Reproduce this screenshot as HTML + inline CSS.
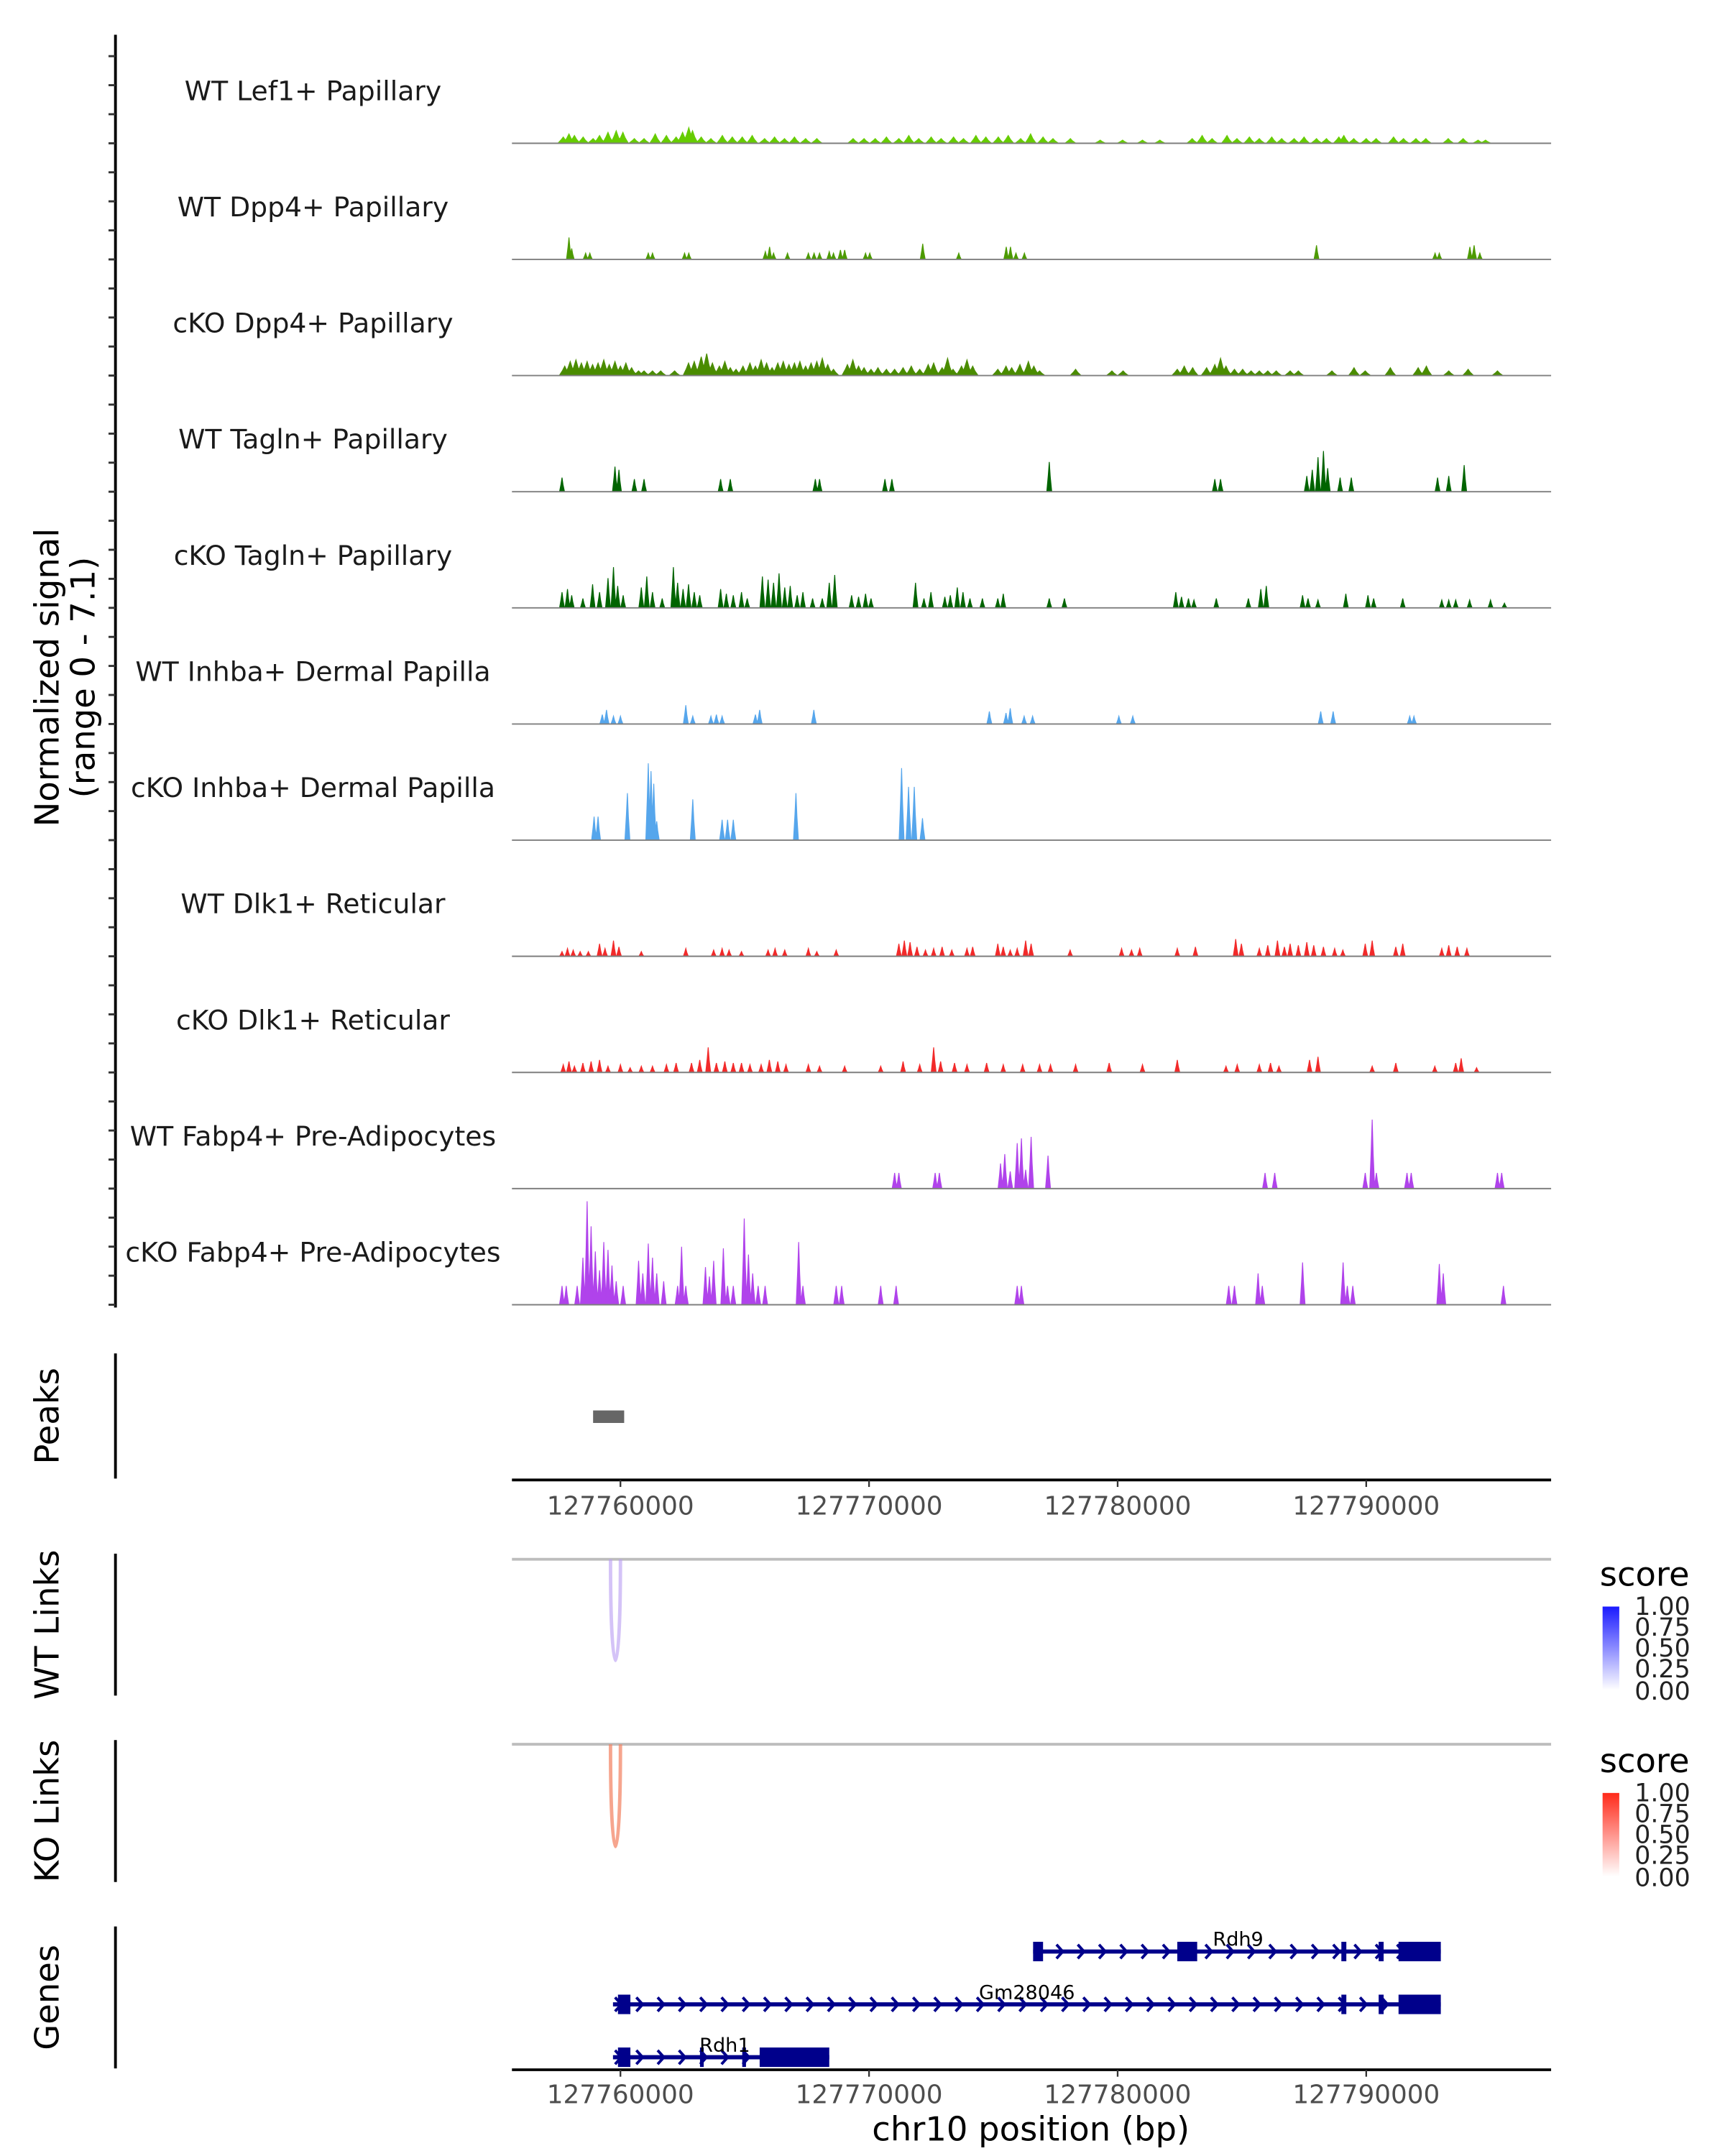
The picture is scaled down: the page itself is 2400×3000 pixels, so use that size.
<!DOCTYPE html>
<html><head><meta charset="utf-8"><style>
html,body{margin:0;padding:0;background:#fff}
svg{display:block;font-family:"DejaVu Sans","Liberation Sans",sans-serif}
</style></head><body>
<svg id="chart" xmlns="http://www.w3.org/2000/svg" width="2400" height="3000" viewBox="0 0 1240 1550">
<rect x="0" y="0" width="1240" height="1550" fill="#fff"/>
<g id="tracks"></g>
<g>
<text transform="translate(42,487) rotate(-90)" text-anchor="middle" font-size="24" fill="#000">Normalized signal</text>
<text transform="translate(68,487) rotate(-90)" text-anchor="middle" font-size="24" fill="#000">(range 0 - 7.1)</text>
</g>
<line x1="83" y1="25" x2="83" y2="940" stroke="#000" stroke-width="2"/>
<g id="yticks"></g>
<line x1="83" y1="973" x2="83" y2="1063" stroke="#000" stroke-width="2"/>
<text transform="translate(42,1018) rotate(-90)" text-anchor="middle" font-size="24">Peaks</text>
<g id="peaks"></g>
<line x1="368" y1="1064" x2="1115" y2="1064" stroke="#000" stroke-width="2"/>
<g id="xticks1"></g>
<line x1="83" y1="1117" x2="83" y2="1219" stroke="#000" stroke-width="2"/>
<text transform="translate(42,1168) rotate(-90)" text-anchor="middle" font-size="24">WT Links</text>
<line x1="368" y1="1121" x2="1115" y2="1121" stroke="#bdbdbd" stroke-width="2"/>
<g id="wtlinks"></g>
<line x1="83" y1="1251" x2="83" y2="1353" stroke="#000" stroke-width="2"/>
<text transform="translate(42,1302) rotate(-90)" text-anchor="middle" font-size="24">KO Links</text>
<line x1="368" y1="1254" x2="1115" y2="1254" stroke="#bdbdbd" stroke-width="2"/>
<g id="kolinks"></g>
<defs>
<linearGradient id="gb" x1="0" y1="1" x2="0" y2="0"><stop offset="0" stop-color="#ffffff"/><stop offset="1" stop-color="#1a1aff"/></linearGradient>
<linearGradient id="gr" x1="0" y1="1" x2="0" y2="0"><stop offset="0" stop-color="#ffffff"/><stop offset="1" stop-color="#ff2a1a"/></linearGradient>
</defs>
<g>
<text x="1150" y="1140" font-size="24">score</text>
<rect x="1152" y="1155" width="12" height="60" fill="url(#gb)"/>
<g font-size="18" fill="#222"><text x="1175" y="1161">1.00</text><text x="1175" y="1176">0.75</text><text x="1175" y="1191">0.50</text><text x="1175" y="1206">0.25</text><text x="1175" y="1222">0.00</text></g>
</g>
<g>
<text x="1150" y="1274" font-size="24">score</text>
<rect x="1152" y="1289" width="12" height="60" fill="url(#gr)"/>
<g font-size="18" fill="#222"><text x="1175" y="1295">1.00</text><text x="1175" y="1310">0.75</text><text x="1175" y="1325">0.50</text><text x="1175" y="1340">0.25</text><text x="1175" y="1356">0.00</text></g>
</g>
<line x1="83" y1="1385" x2="83" y2="1487" stroke="#000" stroke-width="2"/>
<text transform="translate(42,1436) rotate(-90)" text-anchor="middle" font-size="24">Genes</text>
<g id="genes"></g>
<line x1="368" y1="1488" x2="1115" y2="1488" stroke="#000" stroke-width="2"/>
<g id="xticks2"></g>
<text x="741" y="1539" text-anchor="middle" font-size="24">chr10 position (bp)</text>
</svg>
<script>
// positions in kb relative to 127760000; heights in normalized signal units
const trackNames = ["WT Lef1+ Papillary","WT Dpp4+ Papillary","cKO Dpp4+ Papillary","WT Tagln+ Papillary","cKO Tagln+ Papillary","WT Inhba+ Dermal Papilla","cKO Inhba+ Dermal Papilla","WT Dlk1+ Reticular","cKO Dlk1+ Reticular","WT Fabp4+ Pre-Adipocytes","cKO Fabp4+ Pre-Adipocytes"];
const trackColors = ["#66CC00","#4C9A00","#4A8C00","#006400","#006400","#56A6EC","#56A6EC","#F22A2A","#F22A2A","#B043EB","#B043EB"];
const lef1Pos = [-2.3,-2.07,-1.85,-1.5,-1.1,-0.84,-0.5,-0.17,0.1,0.56,0.95,1.4,1.85,2.24,2.5,2.75,2.9,3.25,3.64,4.1,4.5,4.9,5.3,5.8,6.2,6.6,7.0,7.45,7.9,9.36,9.8,10.25,10.7,11.2,11.6,12.0,12.5,12.9,13.4,13.8,14.3,14.7,15.2,15.6,16.1,16.5,17.0,17.4,18.1,19.3,20.2,21.0,21.7,23.0,23.4,23.8,24.4,24.8,25.3,25.7,26.2,26.6,27.1,27.5,28.0,28.4,28.9,29.1,29.5,30.0,30.4,31.1,31.5,32.0,32.4,33.3,33.9,34.5,34.8];
const lef1Val = [0.4,0.6,0.5,0.4,0.3,0.5,0.7,0.8,0.7,0.3,0.3,0.6,0.5,0.4,0.7,1.0,0.8,0.4,0.3,0.5,0.4,0.4,0.5,0.3,0.4,0.3,0.4,0.3,0.3,0.3,0.3,0.3,0.4,0.3,0.5,0.3,0.4,0.3,0.4,0.3,0.5,0.4,0.4,0.5,0.3,0.6,0.4,0.3,0.3,0.2,0.2,0.2,0.2,0.3,0.5,0.3,0.5,0.3,0.4,0.3,0.4,0.3,0.3,0.4,0.3,0.3,0.4,0.5,0.3,0.3,0.3,0.4,0.3,0.3,0.3,0.3,0.3,0.2,0.2];
const wtDppPos = [-2.07,-1.96,-1.4,-1.23,1.12,1.29,2.58,2.75,5.83,6.0,6.16,6.72,7.56,7.79,8.01,8.4,8.57,8.85,9.02,9.86,10.03,12.16,13.61,15.52,15.69,15.91,16.25,28.0,32.77,32.94,34.17,34.34,34.57];
const wtDppVal = [1.4,0.7,0.4,0.4,0.4,0.4,0.4,0.4,0.5,0.8,0.4,0.4,0.4,0.4,0.4,0.5,0.4,0.6,0.6,0.4,0.4,1.0,0.4,0.8,0.8,0.4,0.4,0.9,0.4,0.4,0.8,0.9,0.4];
const koDppPos = [-2.24,-2.02,-1.79,-1.57,-1.34,-1.12,-0.9,-0.67,-0.45,-0.22,0,0.22,0.45,0.73,0.95,1.29,1.62,2.18,2.74,2.97,3.25,3.47,3.7,3.98,4.2,4.42,4.65,4.93,5.21,5.43,5.66,5.88,6.1,6.33,6.55,6.78,7.0,7.22,7.45,7.67,7.9,8.12,8.34,8.57,9.13,9.35,9.58,9.8,10.08,10.36,10.7,11.03,11.37,11.7,12.04,12.38,12.6,12.94,13.16,13.38,13.72,13.94,14.17,15.18,15.51,15.74,16.07,16.41,16.63,16.86,18.31,19.77,20.22,22.4,22.68,23.02,23.58,23.91,24.14,24.36,24.7,25.03,25.37,25.7,26.04,26.38,26.94,27.27,28.62,29.51,29.96,30.97,32.09,32.42,33.32,34.1,35.28];
const koDppVal = [0.6,0.9,1.0,0.8,0.9,0.7,0.8,1.0,0.7,0.9,0.6,0.8,0.5,0.3,0.3,0.3,0.3,0.3,0.8,0.9,1.2,1.4,0.8,0.6,0.9,0.5,0.4,0.6,0.8,0.6,1.0,0.8,0.5,0.8,0.9,0.7,0.8,0.9,0.6,0.8,0.9,1.1,0.7,0.4,0.7,1.0,0.6,0.5,0.4,0.5,0.4,0.4,0.5,0.6,0.4,0.7,0.8,0.5,1.1,0.4,0.6,1.0,0.6,0.4,0.6,0.5,0.7,0.9,0.6,0.3,0.4,0.3,0.3,0.4,0.6,0.5,0.5,0.7,1.1,0.6,0.4,0.4,0.3,0.3,0.3,0.3,0.3,0.3,0.3,0.5,0.3,0.5,0.5,0.6,0.3,0.4,0.3];
const wtTagPos = [-2.35,-0.22,-0.06,0.56,0.95,4.03,4.42,7.84,8.01,10.64,10.92,17.25,23.91,24.14,27.61,27.83,28.06,28.28,28.45,28.95,29.4,32.87,33.32,33.94];
const wtTagVal = [0.9,1.6,1.4,0.8,0.8,0.8,0.8,0.8,0.8,0.8,0.8,1.9,0.8,0.8,1.0,1.4,2.2,2.6,1.5,0.9,0.9,0.9,1.0,1.7];
const koTagPos = [-2.35,-2.13,-1.96,-1.51,-1.12,-0.84,-0.5,-0.28,-0.11,0.11,0.84,1.06,1.29,1.68,2.13,2.3,2.52,2.74,2.97,3.19,4.03,4.26,4.54,4.87,5.1,5.71,5.94,6.16,6.38,6.61,6.83,7.11,7.34,7.73,8.12,8.4,8.62,9.3,9.58,9.86,10.08,11.87,12.21,12.49,13.05,13.27,13.55,13.78,14.06,14.56,15.18,15.4,17.25,17.86,22.34,22.57,22.85,23.07,23.97,25.26,25.76,25.98,27.44,27.66,28.06,29.18,30.07,30.3,31.47,33.04,33.32,33.6,34.16,35.0,35.56];
const koTagVal = [1.0,1.2,0.8,0.6,1.5,1.0,1.9,2.6,1.4,0.8,1.3,2.0,1.0,0.6,2.6,1.6,1.2,1.5,1.0,0.8,1.2,0.9,0.8,1.0,0.6,2.0,1.8,1.6,2.2,1.3,1.4,0.8,1.0,0.6,0.6,1.6,2.1,0.8,0.7,0.9,0.6,1.6,0.6,1.0,0.7,0.8,1.3,1.0,0.6,0.6,0.6,0.9,0.6,0.6,1.0,0.7,0.6,0.5,0.6,0.6,1.2,1.4,0.8,0.6,0.5,0.9,0.8,0.6,0.6,0.5,0.5,0.5,0.5,0.5,0.3];
const wtInhPos = [-0.73,-0.56,-0.28,0,2.63,2.91,3.64,3.86,4.09,5.43,5.6,7.78,14.84,15.51,15.68,16.24,16.58,20.05,20.61,28.17,28.67,31.75,31.92];
const wtInhVal = [0.6,0.9,0.5,0.5,1.2,0.5,0.5,0.6,0.5,0.6,0.9,0.9,0.8,0.7,1.0,0.5,0.5,0.5,0.5,0.8,0.8,0.5,0.5];
const koInhPos = [-1.06,-0.9,0.28,1.12,1.23,1.34,1.46,2.91,4.09,4.31,4.54,7.06,11.31,11.59,11.82,12.15];
const koInhVal = [1.5,1.5,3.0,4.9,4.4,3.6,1.2,2.6,1.3,1.3,1.3,3.0,4.6,3.4,3.4,1.4];
const wtDlkPos = [-2.35,-2.13,-1.9,-1.62,-1.29,-0.84,-0.62,-0.28,-0.06,0.84,2.63,3.75,4.09,4.37,4.87,5.94,6.22,6.61,7.56,7.9,8.68,11.2,11.42,11.65,11.93,12.27,12.6,12.94,13.33,13.94,14.17,15.18,15.4,15.68,15.96,16.3,16.52,18.09,20.16,20.56,20.89,22.4,23.13,24.75,24.98,25.7,26.04,26.43,26.71,26.94,27.27,27.61,27.89,28.28,28.73,29.06,29.96,30.24,31.19,31.47,33.04,33.32,33.66,34.05];
const wtDlkVal = [0.3,0.5,0.4,0.3,0.3,0.8,0.5,1.0,0.6,0.3,0.5,0.4,0.5,0.4,0.3,0.4,0.5,0.4,0.5,0.3,0.4,0.8,1.0,0.9,0.6,0.4,0.5,0.6,0.4,0.5,0.6,0.8,0.6,0.4,0.5,1.0,0.8,0.4,0.5,0.4,0.5,0.5,0.6,1.1,0.8,0.5,0.7,1.0,0.6,0.8,0.7,0.9,0.7,0.6,0.5,0.4,0.8,1.0,0.6,0.8,0.5,0.7,0.6,0.5];
const koDlkPos = [-2.3,-2.07,-1.85,-1.51,-1.18,-0.84,-0.5,0,0.39,0.84,1.29,1.85,2.24,2.86,3.19,3.53,3.86,4.2,4.54,4.87,5.21,5.66,5.99,6.33,6.66,7.56,8.01,9.02,10.47,11.37,12.04,12.6,12.88,13.44,13.94,14.73,15.4,16.18,16.86,17.3,18.31,19.66,21.0,22.4,24.36,24.81,25.7,26.15,26.49,27.72,28.06,30.24,31.19,32.76,33.6,33.82,34.44];
const koDlkVal = [0.5,0.7,0.4,0.6,0.7,0.8,0.4,0.5,0.3,0.4,0.4,0.5,0.6,0.6,0.8,1.6,0.6,0.7,0.6,0.6,0.5,0.5,0.8,0.7,0.5,0.5,0.4,0.4,0.4,0.7,0.5,1.6,0.7,0.6,0.5,0.6,0.5,0.5,0.5,0.5,0.5,0.6,0.5,0.8,0.4,0.5,0.5,0.6,0.4,0.8,1.0,0.4,0.6,0.4,0.6,0.9,0.3];
const wtFabPos = [11.03,11.2,12.66,12.83,15.29,15.46,15.68,15.96,16.13,16.3,16.52,17.2,25.93,26.32,29.96,30.24,30.41,31.64,31.81,35.28,35.45];
const wtFabVal = [1.0,1.0,1.0,1.0,1.6,2.2,1.1,2.9,3.2,1.2,3.3,2.1,1.0,1.0,1.0,4.4,1.0,1.0,1.0,1.0,1.0];
const koFabPos = [-2.35,-2.18,-1.74,-1.51,-1.34,-1.18,-1.01,-0.84,-0.67,-0.5,-0.34,-0.17,0.11,0.73,0.9,1.12,1.29,1.46,1.74,2.3,2.46,2.63,3.42,3.58,3.75,4.14,4.31,4.54,4.98,5.15,5.32,5.54,5.82,7.17,7.34,8.68,8.9,10.47,11.09,15.96,16.13,24.47,24.7,25.65,25.82,27.44,29.07,29.24,29.46,32.94,33.1,35.52];
const koFabVal = [1.2,1.2,1.2,3.0,6.6,5.0,3.4,2.2,4.0,3.5,2.5,1.5,1.2,2.8,2.0,3.9,3.0,2.0,1.5,1.2,3.7,1.2,2.4,1.8,2.8,3.6,1.2,1.2,5.5,3.2,2.0,1.2,1.2,4.0,1.2,1.2,1.2,1.2,1.2,1.2,1.2,1.2,1.2,2.0,1.2,2.7,2.7,1.2,1.2,2.6,2.0,1.2];
const trackPos = [lef1Pos,wtDppPos,koDppPos,wtTagPos,koTagPos,wtInhPos,koInhPos,wtDlkPos,koDlkPos,wtFabPos,koFabPos];
const trackVal = [lef1Val,wtDppVal,koDppVal,wtTagVal,koTagVal,wtInhVal,koInhVal,wtDlkVal,koDlkVal,wtFabVal,koFabVal];
const xTicks = [0,10,20,30];
const xTickLabels = ["127760000","127770000","127780000","127790000"];
const peakStart = [-1.1];
const peakEnd = [0.15];
const wtLinkStart = [-0.4]; const wtLinkEnd = [0.0]; const wtLinkScore = [0.3];
const koLinkStart = [-0.4]; const koLinkEnd = [0.0]; const koLinkScore = [0.5];
const geneNames = ["Rdh9","Gm28046","Rdh1"];
const geneStart = [16.6,-0.3,-0.3];
const geneEnd = [33.0,33.0,8.4];
const geneExons = [[[16.6,17.0],[22.4,23.2],[29.0,29.2],[30.5,30.7],[31.3,33.0]],[[-0.1,0.4],[29.0,29.2],[30.5,30.7],[31.3,33.0]],[[-0.1,0.4],[3.2,3.35],[4.9,5.05],[5.6,8.4]]];

const NS="http://www.w3.org/2000/svg";
function mk(tag,attrs,parent){const e=document.createElementNS(NS,tag);for(const k in attrs)e.setAttribute(k,attrs[k]);parent.appendChild(e);return e;}
const xS = kb => 446 + kb*17.87;
const yMaxPx = 80, yMax = 7.1;
const yS = (v,base) => base - v/yMax*yMaxPx;
const base0 = 103, step = 83.5;

const tracksG=document.getElementById('tracks');
trackNames.forEach((nm,i)=>{
  const base=base0+i*step;
  const g=mk('g',{},tracksG);
  
  
  const t=mk('text',{x:225,y:base-31,'text-anchor':'middle','font-size':19.5,fill:'#1a1a1a'},g);
  t.textContent=nm;
  
  
  const w = (i===0||i===2)?0.22:0.1;
  let d='';
  trackPos[i].forEach((p,j)=>{
    const v=trackVal[i][j];
    d+='M'+xS(p-w).toFixed(2)+','+base+'L'+xS(p-w*0.4).toFixed(2)+','+yS(v*0.55,base).toFixed(2)+'L'+xS(p).toFixed(2)+','+yS(v,base).toFixed(2)+'L'+xS(p+w*0.4).toFixed(2)+','+yS(v*0.5,base).toFixed(2)+'L'+xS(p+w).toFixed(2)+','+base+'Z';
  });
  const pth=mk('path',{d:d,fill:trackColors[i],stroke:trackColors[i],'stroke-width':0.6},g);
  
  
  const bl=mk('line',{x1:368,y1:base,x2:1115,y2:base,stroke:'#7f7f7f','stroke-width':1},g);
  
  
});
const yt=document.getElementById('yticks');
for(let j=0;j<44;j++){
  const y=base0-3*step/4+j*step/4;
  const l=mk('line',{x1:78,y1:y,x2:83,y2:y,stroke:'#333','stroke-width':1.5},yt);
  
  
}
const pk=document.getElementById('peaks');
peakStart.forEach((s,i)=>{
  const r=mk('rect',{x:xS(s),y:1014,width:xS(peakEnd[i])-xS(s),height:9,fill:'#666'},pk);
  
  
});
[['xticks1',1064,1089],['xticks2',1488,1512]].forEach(([id,y,ty])=>{
  const g=document.getElementById(id);
  xTicks.forEach((k,i)=>{
    const l=mk('line',{x1:xS(k),y1:y,x2:xS(k),y2:y+5,stroke:'#333','stroke-width':1.2},g);
    
    
    const t=mk('text',{x:xS(k),y:ty,'text-anchor':'middle','font-size':18.5,fill:'#4d4d4d'},g);
    t.textContent=xTickLabels[i];
    
    
  });
});
function links(id,st,en,sc,top,bottom,col){
  const g=document.getElementById(id);
  st.forEach((s,i)=>{
    const x1=xS(s),x2=xS(en[i]);
    const p=mk('path',{d:`M${x1},${top} C${x1},${bottom+5} ${x2},${bottom+5} ${x2},${top}`,fill:'none',stroke:col,'stroke-width':2.5,opacity:0.45+sc[i]*0.5},g);
    
    
  });
}
links('wtlinks',wtLinkStart,wtLinkEnd,wtLinkScore,1121,1213,'#B89BF2');
links('kolinks',koLinkStart,koLinkEnd,koLinkScore,1254,1347,'#F27F5E');
const gg=document.getElementById('genes');
const gy=[1403,1441,1479];
const gc='#00008B';
geneNames.forEach((nm,i)=>{
  const y=gy[i];
  const g=mk('g',{},gg);
  
  
  const x1=xS(geneStart[i]),x2=xS(geneEnd[i]);
  mk('line',{x1:x1,y1:y,x2:x2,y2:y,stroke:gc,'stroke-width':3},g);
  let d='';
  for(let x=x1+4;x<x2-4;x+=15.3){d+=`M${x-2.5},${y-5}L${x+2},${y}L${x-2.5},${y+5}`;}
  mk('path',{d:d,fill:'none',stroke:gc,'stroke-width':2},g);
  geneExons[i].forEach(ex=>{
    const a=xS(ex[0]),b=xS(ex[1]);
    const r=mk('rect',{x:a,y:y-7,width:Math.max(2.5,b-a),height:14,fill:gc},g);
    
    
  });
  const t=mk('text',{x:(i===0?890:(x1+x2)/2),y:y-4,'text-anchor':'middle','font-size':14,fill:'#000'},g);
  if(i===2) t.setAttribute('x',521);
  t.textContent=nm;
  
  
});
</script>
</body></html>
